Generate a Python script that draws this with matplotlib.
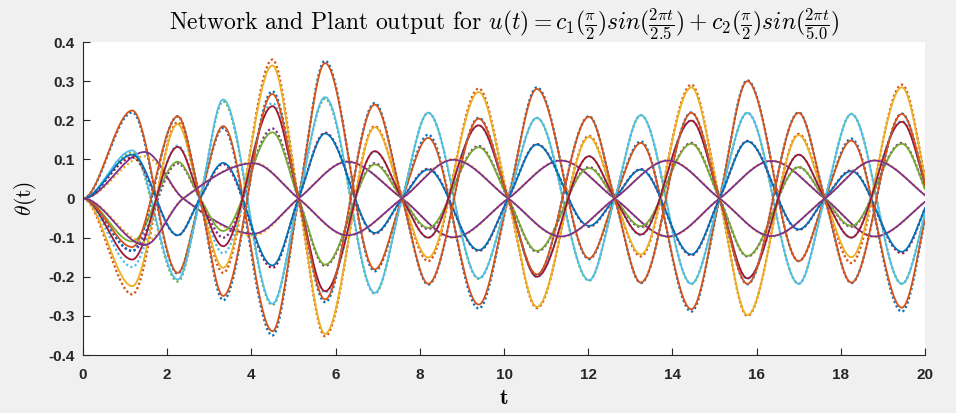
import numpy as np
import matplotlib
matplotlib.use("Agg")
import matplotlib.pyplot as plt

plt.rcParams["mathtext.fontset"] = "cm"

# Instants of the half-cycle extrema of the 2.5 s dominated responses
peak_t = [1.17, 2.25, 3.33, 4.50, 5.75, 6.93, 8.20, 9.40, 10.78, 12.02,
          13.25, 14.45, 15.78, 17.00, 18.25, 19.45, 20.75]
# Instants of the extrema of the pure 5 s responses
slow_peak_t = [1.47, 4.05, 6.28, 8.80, 11.35, 13.90, 16.35, 18.80, 21.30]
# Instants where all outputs pass through zero together
cross_t = [2.78, 5.12, 7.58, 10.10, 12.63, 15.12, 17.62, 20.10]
slow_cross_t = [2.38, 5.12, 7.58, 10.10, 12.63, 15.12, 17.62, 20.10]

# Plant output (solid) and network output (dotted) extrema, one run per (c1, c2)
plant_1 = [0.225, -0.190, 0.185, -0.339, 0.346, -0.181, 0.155, -0.271, 0.280, -0.153,
           0.142, -0.283, 0.300, -0.160, 0.148, -0.279, 0.292]
net_1 = [0.220, -0.192, 0.180, -0.350, 0.352, -0.186, 0.163, -0.281, 0.284, -0.155,
         0.146, -0.289, 0.302, -0.160, 0.153, -0.289, 0.296]
plant_2 = [0.119, -0.090, 0.094, -0.099, 0.097, -0.097, 0.096, -0.097, 0.098]
net_2 = [0.108, -0.094, 0.095, -0.101, 0.098, -0.098, 0.097, -0.098, 0.098]
plant_3 = [0.123, -0.207, 0.253, -0.269, 0.259, -0.241, 0.219, -0.204, 0.206, -0.209,
           0.213, -0.218, 0.219, -0.218, 0.216, -0.218, 0.218]
net_3 = [0.118, -0.212, 0.248, -0.272, 0.255, -0.243, 0.219, -0.205, 0.206, -0.210,
         0.213, -0.218, 0.219, -0.218, 0.216, -0.218, 0.218]
plant_4 = [0.112, -0.094, 0.091, -0.171, 0.166, -0.088, 0.074, -0.132, 0.138, -0.070,
           0.074, -0.143, 0.146, -0.079, 0.070, -0.136, 0.145]
net_4 = [0.105, -0.094, 0.088, -0.177, 0.168, -0.090, 0.076, -0.134, 0.139, -0.072,
         0.075, -0.145, 0.147, -0.080, 0.072, -0.140, 0.146]
plant_5 = [-0.224, 0.190, -0.177, 0.340, -0.346, 0.182, -0.151, 0.272, -0.277, 0.157,
           -0.143, 0.284, -0.298, 0.162, -0.150, 0.284, -0.295]
net_5 = [-0.245, 0.195, -0.190, 0.355, -0.352, 0.185, -0.160, 0.281, -0.280, 0.160,
         -0.148, 0.291, -0.300, 0.165, -0.165, 0.291, -0.300]
plant_6 = [-0.110, 0.094, -0.083, 0.169, -0.169, 0.087, -0.075, 0.131, -0.134, 0.078,
           -0.071, 0.140, -0.147, 0.080, -0.070, 0.140, -0.145]
net_6 = [-0.134, 0.090, -0.100, 0.179, -0.172, 0.090, -0.078, 0.134, -0.136, 0.080,
         -0.073, 0.142, -0.148, 0.080, -0.072, 0.142, -0.146]
plant_7 = [-0.156, 0.132, -0.122, 0.236, -0.237, 0.121, -0.100, 0.187, -0.200, 0.108,
           -0.092, 0.199, -0.204, 0.112, -0.100, 0.196, -0.205]
net_7 = [-0.175, 0.135, -0.140, 0.244, -0.240, 0.120, -0.100, 0.187, -0.200, 0.108,
         -0.094, 0.200, -0.205, 0.112, -0.100, 0.198, -0.205]
plant_8 = [-0.124, 0.210, -0.249, 0.267, -0.258, 0.240, -0.218, 0.204, -0.194, 0.209,
           -0.215, 0.219, -0.218, 0.219, -0.215, 0.216, -0.216]
net_8 = [-0.134, 0.210, -0.260, 0.274, -0.265, 0.244, -0.220, 0.206, -0.196, 0.210,
         -0.216, 0.220, -0.219, 0.220, -0.216, 0.217, -0.216]
plant_9 = [-0.119, 0.090, -0.094, 0.099, -0.097, 0.097, -0.096, 0.097, -0.098]
net_9 = [-0.112, 0.092, -0.095, 0.101, -0.098, 0.098, -0.097, 0.098, -0.098]

runs = [(net_1, plant_1, "fast"), (net_2, plant_2, "slow"), (net_3, plant_3, "fast"),
        (net_4, plant_4, "fast"), (net_5, plant_5, "fast"), (net_6, plant_6, "fast"),
        (net_7, plant_7, "fast"), (net_8, plant_8, "fast"), (net_9, plant_9, "slow")]

x_ticks = [0, 2, 4, 6, 8, 10, 12, 14, 16, 18, 20]
y_ticks = [-0.4, -0.3, -0.2, -0.1, 0, 0.1, 0.2, 0.3, 0.4]
y_tick_labels = ["-0.4", "-0.3", "-0.2", "-0.1", "0", "0.1", "0.2", "0.3", "0.4"]

# MATLAB default colour order
color_order = ["#0072BD", "#D95319", "#EDB120", "#7E2F8E", "#77AC30", "#4DBEEE", "#A2142F"]


def knots(peaks, kind):
    """Merge the extrema with the common zero crossings into (t, y) knots."""
    if kind == "fast":
        pt, ct = peak_t, cross_t
    else:
        pt, ct = slow_peak_t, slow_cross_t
    t = [0.0] + list(pt) + list(ct)
    y = [0.0] + list(peaks) + [0.0] * len(ct)
    order = np.argsort(t)
    return np.asarray(t)[order], np.asarray(y)[order]


def pchip(xk, yk, x):
    """Shape-preserving cubic Hermite curve through the knots."""
    h = np.diff(xk)
    d = np.diff(yk) / h
    m = np.zeros_like(yk)
    for k in range(1, len(xk) - 1):
        if d[k - 1] * d[k] > 0:
            w1 = 2 * h[k] + h[k - 1]
            w2 = h[k] + 2 * h[k - 1]
            m[k] = (w1 + w2) / (w1 / d[k - 1] + w2 / d[k])
    i = np.clip(np.searchsorted(xk, x, side="right") - 1, 0, len(xk) - 2)
    s = (x - xk[i]) / h[i]
    h00 = 2 * s**3 - 3 * s**2 + 1
    h10 = s**3 - 2 * s**2 + s
    h01 = -2 * s**3 + 3 * s**2
    h11 = s**3 - s**2
    return h00 * yk[i] + h10 * h[i] * m[i] + h01 * yk[i + 1] + h11 * h[i] * m[i + 1]


t = np.linspace(0, 20, 2001)

fig = plt.figure(figsize=(9.56, 4.13), dpi=100, facecolor="#f0f0f0")
ax = fig.add_axes([0.0868, 0.1404, 0.8808, 0.7579])
ax.set_facecolor("white")

ci = 0
for net, plant, kind in runs:
    tk, yk = knots(net, kind)
    ax.plot(t, pchip(tk, yk, t), color=color_order[ci % 7], lw=1.7,
            linestyle=(0, (0.9, 1.1)))
    ci += 1
    tk, yk = knots(plant, kind)
    ax.plot(t, pchip(tk, yk, t), color=color_order[ci % 7], lw=1.3)
    ci += 1

ax.set_xlim(0, 20)
ax.set_ylim(-0.4, 0.4)
ax.set_xticks(x_ticks)
ax.set_xticklabels([str(v) for v in x_ticks])
ax.set_yticks(y_ticks)
ax.set_yticklabels(y_tick_labels)

for side in ("top", "right"):
    ax.spines[side].set_visible(False)
for side in ("left", "bottom"):
    ax.spines[side].set_color("#262626")
    ax.spines[side].set_linewidth(0.8)
ax.tick_params(direction="in", length=5, width=0.8, colors="#262626", labelsize=11)
ax.tick_params(axis="x", pad=9)
ax.tick_params(axis="y", pad=6)
for lab in ax.get_xticklabels() + ax.get_yticklabels():
    lab.set_fontfamily("Liberation Sans")
    lab.set_fontweight("bold")

ax.set_title(r"Network and Plant output for $u(t) = c_1(\frac{\pi}{2})sin(\frac{2\pi t}{2.5})"
             r" + c_2(\frac{\pi}{2})sin(\frac{2\pi t}{5.0})$",
             fontfamily="cmr10", fontsize=17, pad=5)
ax.set_ylabel(r"$\theta$(t)", fontfamily="cmr10", fontsize=15.5)
ax.yaxis.set_label_coords(-0.052, 0.5)
ax.set_xlabel(r"$\mathbf{t}$", fontsize=16, labelpad=5)

fig.savefig("out.png", dpi=100, facecolor=fig.get_facecolor())
